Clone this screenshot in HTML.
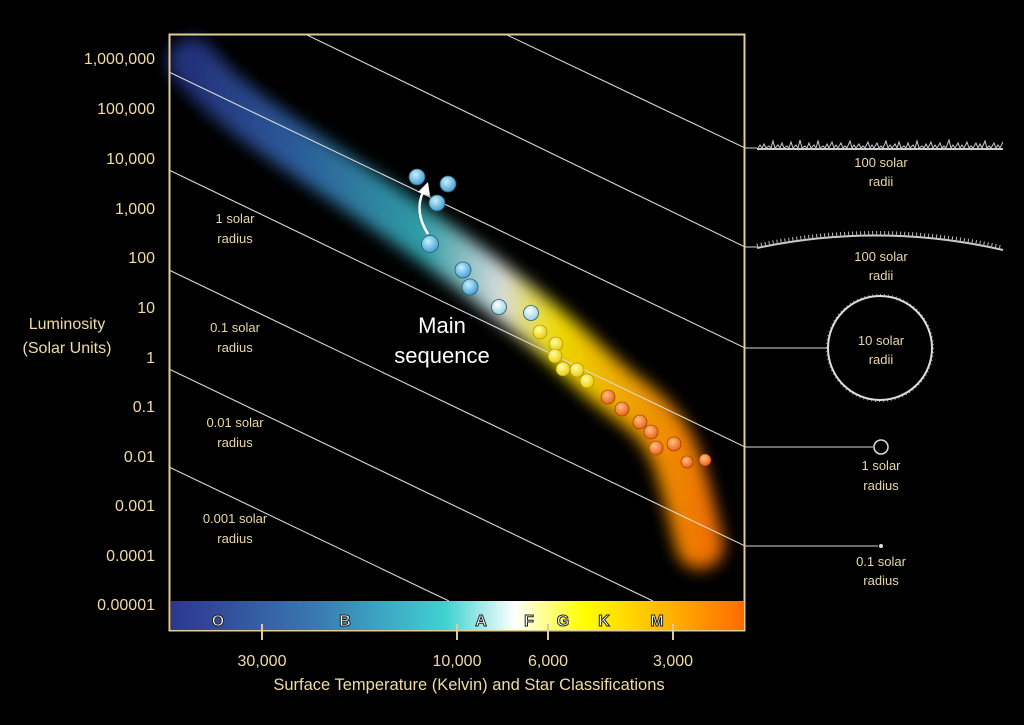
<!DOCTYPE html>
<html><head><style>
html,body{margin:0;padding:0;background:#000;}
svg{display:block}
text{font-family:"Liberation Sans",sans-serif;}
</style></head><body>
<svg width="1024" height="725" viewBox="0 0 1024 725" xmlns="http://www.w3.org/2000/svg">
<defs>
<filter id="blur" x="-20%" y="-20%" width="140%" height="140%"><feGaussianBlur stdDeviation="8"/></filter>
<clipPath id="cl"><rect x="750" y="120" width="253" height="40"/></clipPath>
<linearGradient id="band" gradientUnits="userSpaceOnUse" x1="190" y1="0" x2="710" y2="0">
<stop offset="0" stop-color="#23307a"/>
<stop offset="0.2" stop-color="#2c5a98"/>
<stop offset="0.45" stop-color="#2e9ea6"/>
<stop offset="0.6" stop-color="#d8dcdc"/>
<stop offset="0.7" stop-color="#eedc00"/>
<stop offset="0.85" stop-color="#eea000"/>
<stop offset="1" stop-color="#f07000"/>
</linearGradient>
<linearGradient id="bar" x1="0" y1="0" x2="1" y2="0">
<stop offset="0" stop-color="#2e3690"/>
<stop offset="0.25" stop-color="#3a78b0"/>
<stop offset="0.48" stop-color="#40d2d2"/>
<stop offset="0.6" stop-color="#ffffff"/>
<stop offset="0.72" stop-color="#ffff00"/>
<stop offset="0.86" stop-color="#ffb800"/>
<stop offset="1" stop-color="#ff6a00"/>
</linearGradient>
<radialGradient id="sb" cx="0.4" cy="0.35" r="0.7"><stop offset="0" stop-color="#c8f0ff"/><stop offset="1" stop-color="#3a9ad0"/></radialGradient>
<radialGradient id="sp" cx="0.4" cy="0.35" r="0.7"><stop offset="0" stop-color="#ffffff"/><stop offset="1" stop-color="#90d0e0"/></radialGradient>
<radialGradient id="sy" cx="0.4" cy="0.35" r="0.7"><stop offset="0" stop-color="#ffffa0"/><stop offset="1" stop-color="#e8c800"/></radialGradient>
<radialGradient id="so" cx="0.4" cy="0.35" r="0.7"><stop offset="0" stop-color="#ffc080"/><stop offset="1" stop-color="#e85a10"/></radialGradient>
</defs>
<rect width="1024" height="725" fill="#000"/>
<path d="M192,62 C230,110 300,150 380,205 S480,275 530,315 S580,360 610,385 S665,420 680,470 S695,530 700,545" fill="none" stroke="url(#band)" stroke-width="48" stroke-linecap="round" filter="url(#blur)"/>
<g stroke="#d8d8d8" stroke-width="1.1" fill="none">
<polyline points="505,34 745,148 757,148"/>
<polyline points="305,34 745,247 757,247"/>
<polyline points="169,72 745,348 828,348"/>
<polyline points="169,170 745,447 873,447"/>
<polyline points="169,270 745,546 878,546"/>
<line x1="169" y1="369" x2="653" y2="601"/>
<line x1="169" y1="467" x2="449" y2="601"/>
</g>
<rect x="169.5" y="34.5" width="575" height="596" fill="none" stroke="#e0cc98" stroke-width="2"/>
<rect x="171" y="601" width="573" height="29" fill="url(#bar)"/>
<g font-size="16" font-weight="bold" fill="#fff" stroke="#222" stroke-width="1" text-anchor="middle">
<text x="218" y="626">O</text><text x="345" y="626">B</text><text x="481" y="626">A</text><text x="529" y="626">F</text><text x="563" y="626">G</text><text x="604" y="626">K</text><text x="657" y="626">M</text>
</g>
<g stroke="#e0cc98" stroke-width="2"><line x1="262" y1="624" x2="262" y2="640"/><line x1="457" y1="624" x2="457" y2="640"/><line x1="548" y1="624" x2="548" y2="640"/><line x1="673" y1="624" x2="673" y2="640"/></g>
<g fill="#f0dca0" font-size="16" text-anchor="middle">
<text x="262" y="666">30,000</text><text x="457" y="666">10,000</text><text x="548" y="666">6,000</text><text x="673" y="666">3,000</text>
<text x="469" y="690" font-size="16.5">Surface Temperature (Kelvin) and Star Classifications</text>
</g>
<g fill="#f0dca0" font-size="16" text-anchor="end">
<text x="155" y="64">1,000,000</text><text x="155" y="114">100,000</text><text x="155" y="164">10,000</text><text x="155" y="214">1,000</text><text x="155" y="263">100</text><text x="155" y="313">10</text><text x="155" y="363">1</text><text x="155" y="412">0.1</text><text x="155" y="462">0.01</text><text x="155" y="511">0.001</text><text x="155" y="561">0.0001</text><text x="155" y="610">0.00001</text>
</g>
<g fill="#f0dca0" font-size="16" text-anchor="middle"><text x="67" y="329">Luminosity</text><text x="67" y="353">(Solar Units)</text></g>
<g fill="#e8d8a8" font-size="13" text-anchor="middle">
<text x="235" y="223">1 solar</text><text x="235" y="243">radius</text>
<text x="235" y="332">0.1 solar</text><text x="235" y="352">radius</text>
<text x="235" y="427">0.01 solar</text><text x="235" y="447">radius</text>
<text x="235" y="523">0.001 solar</text><text x="235" y="543">radius</text>
</g>
<g fill="#e8d8a8" font-size="13" text-anchor="middle">
<text x="881" y="167">100 solar</text><text x="881" y="186">radii</text>
<text x="881" y="261">100 solar</text><text x="881" y="280">radii</text>
<text x="881" y="345">10 solar</text><text x="881" y="364">radii</text>
<text x="881" y="470">1 solar</text><text x="881" y="490">radius</text>
<text x="881" y="566">0.1 solar</text><text x="881" y="585">radius</text>
</g>
<path d="M757,149 L1003,149" stroke="#ccc" stroke-width="2"/>
<path clip-path="url(#cl)" d="M758,148 l2,-3 l2,3 l2,-4 l2,4 l3,-2 l2,2 l2,-7 l2,7 l3,-3 l2,3 l2,-5 l2,5 l3,-2 l2,2 l2,-6 l2,6 l3,-3 l2,3 l2,-8 l2,8 l3,-2 l2,2 l2,-5 l2,5 l3,-3 l2,3 l2,-7 l2,7 l3,-2 l2,2 l2,-4 l2,4 l3,-6 l2,6 l2,-3 l2,3 l3,-5 l2,5 l2,-2 l2,2 l3,-7 l2,7 l2,-3 l2,3 l3,-4 l2,4 l2,-2 l2,2 l3,-6 l2,6 l2,-3 l2,3 l3,-5 l2,5 l2,-2 l2,2 l3,-7 l2,7 l2,-3 l2,3 l3,-4 l2,4 l2,-6 l2,6 l3,-2 l2,2 l2,-5 l2,5 l3,-3 l2,3 l2,-7 l2,7 l3,-2 l2,2 l2,-4 l2,4 l3,-6 l2,6 l2,-3 l2,3 l3,-5 l2,5 l2,-2 l2,2 l3,-8 l2,8 l2,-3 l2,3 l3,-5 l2,5 l2,-3 l2,3 l3,-6 l2,6 l2,-2 l2,2 l3,-5 l2,5 l2,-4 l2,4 l3,-7 l2,7 l2,-2 l2,2 l3,-5 l2,5 l2,-3 l2,3 l3,-6 l2,6 l2,-2 l2,2 l3,-8 l2,8 l2,-3 l2,3" fill="none" stroke="#ccc" stroke-width="1"/>
<path d="M757,248 Q880,222 1003,250" fill="none" stroke="#ccc" stroke-width="2"/>
<path d="M757,246 Q880,220 1003,248" fill="none" stroke="#bbb" stroke-width="5" stroke-dasharray="1 3"/>
<circle cx="880" cy="348" r="52" fill="none" stroke="#ddd" stroke-width="2"/>
<circle cx="880" cy="348" r="53.5" fill="none" stroke="#aaa" stroke-width="1" stroke-dasharray="1 3"/>
<circle cx="881" cy="447" r="7" fill="none" stroke="#ddd" stroke-width="1.5"/>
<circle cx="881" cy="546" r="2" fill="#ddd"/>
<g stroke="#2a5a70" stroke-width="0.8">
<circle cx="417" cy="177" r="8" fill="url(#sb)"/><circle cx="448" cy="184" r="8" fill="url(#sb)"/><circle cx="437" cy="203" r="8" fill="url(#sb)"/><circle cx="430" cy="244" r="8.5" fill="url(#sb)"/><circle cx="463" cy="270" r="8" fill="url(#sb)"/><circle cx="470" cy="287" r="8" fill="url(#sb)"/>
<circle cx="499" cy="307" r="7.5" fill="url(#sp)"/><circle cx="531" cy="313" r="7.5" fill="url(#sp)"/>
</g>
<g stroke="#a08000" stroke-width="0.6">
<circle cx="540" cy="332" r="7" fill="url(#sy)"/><circle cx="556" cy="344" r="7" fill="url(#sy)"/><circle cx="555" cy="356" r="7" fill="url(#sy)"/><circle cx="563" cy="369" r="7" fill="url(#sy)"/><circle cx="577" cy="370" r="7" fill="url(#sy)"/><circle cx="587" cy="381" r="7" fill="url(#sy)"/>
</g>
<g stroke="#8a3000" stroke-width="0.6">
<circle cx="608" cy="397" r="7" fill="url(#so)"/><circle cx="622" cy="409" r="7" fill="url(#so)"/><circle cx="640" cy="422" r="7" fill="url(#so)"/><circle cx="651" cy="432" r="7" fill="url(#so)"/><circle cx="656" cy="448" r="7" fill="url(#so)"/><circle cx="674" cy="444" r="7" fill="url(#so)"/><circle cx="687" cy="462" r="6" fill="url(#so)"/><circle cx="705" cy="460" r="6" fill="url(#so)"/>
</g>
<path d="M428,234 Q414,212 423,192" fill="none" stroke="#fff" stroke-width="2.5"/>
<path d="M418,192 L428,182 L430,196 Z" fill="#fff"/>
<g fill="#fff" font-size="22" text-anchor="middle"><text x="442" y="333">Main</text><text x="442" y="363">sequence</text></g>
</svg>
</body></html>
